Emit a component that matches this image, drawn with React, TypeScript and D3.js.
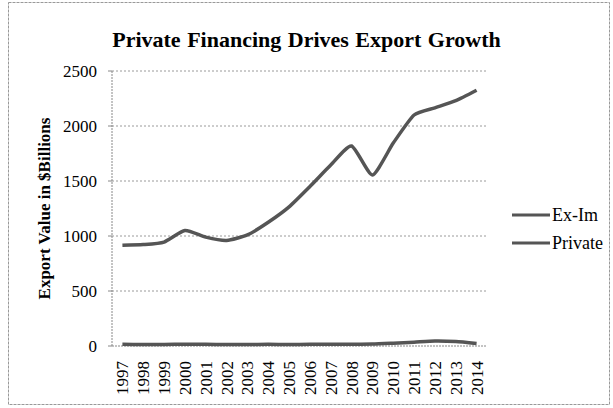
import React from "react";
import * as d3 from "d3";

// chart data
const years = ["1997", "1998", "1999", "2000", "2001", "2002", "2003", "2004", "2005",
  "2006", "2007", "2008", "2009", "2010", "2011", "2012", "2013", "2014"];
const privateValues = [915, 922, 945, 1050, 990, 960, 1010, 1125, 1265,
  1450, 1645, 1818, 1555, 1845, 2100, 2165, 2230, 2325];
const eximValues = [15, 14, 14, 16, 15, 14, 14, 15, 14, 15, 15, 16, 18, 26, 35, 45, 40, 22];
const yTicks = [0, 500, 1000, 1500, 2000, 2500];
const legendLabels = ["Ex-Im", "Private"];

const W = 613;
const H = 408;
const plot = { left: 112, right: 487, top: 71, bottom: 346 };
const font = '"Liberation Serif", "Times New Roman", serif';
const lineColor = "#555";

const App: React.FC = () => {
  const x = d3.scaleBand<string>().domain(years).range([plot.left, plot.right]);
  const y = d3.scaleLinear().domain([0, 2500]).range([plot.bottom, plot.top]);
  const cx = (yr: string) => (x(yr) ?? 0) + x.bandwidth() / 2;

  const line = d3
    .line<number>()
    .x((_, i) => cx(years[i]))
    .y((d) => y(d))
    .curve(d3.curveCardinal.tension(0.4));

  const series = [
    { label: legendLabels[0], values: eximValues },
    { label: legendLabels[1], values: privateValues },
  ];

  return (
    <svg width={W} height={H} style={{ position: "absolute", left: 0, top: 0, background: "#fff" }}>
      <rect x={8.5} y={2.5} width={601} height={402} fill="#fff" stroke="#999" strokeDasharray="3,1" />

      <text x={W / 2} y={47} textAnchor="middle" fontFamily={font} fontWeight="bold" fontSize={22}
        wordSpacing={1}>
        Private Financing Drives Export Growth
      </text>

      {/* grid */}
      {yTicks.filter((t) => t > 0).map((t) => (
        <line key={t} x1={plot.left} x2={plot.right} y1={y(t)} y2={y(t)}
          stroke="#9a9a9a" strokeDasharray="2,2" />
      ))}
      {yTicks.map((t) => (
        <g key={"t" + t}>
          <line x1={plot.left - 4} x2={plot.left} y1={y(t)} y2={y(t)} stroke="#888" />
          <text x={97} y={y(t)} dy="0.35em" textAnchor="end" fontFamily={font} fontSize={17}>
            {t}
          </text>
        </g>
      ))}
      <line x1={plot.left} x2={plot.left} y1={plot.top} y2={plot.bottom} stroke="#888" strokeDasharray="2,1" />
      <line x1={plot.left} x2={plot.right} y1={plot.bottom} y2={plot.bottom} stroke="#888" strokeDasharray="2,1" />

      {years.map((yr) => (
        <text key={yr} transform={`translate(${cx(yr)},${plot.bottom + 15}) rotate(-90)`}
          dy="0.35em" textAnchor="end" fontFamily={font} fontSize={17}>
          {yr}
        </text>
      ))}

      <text transform={`translate(44,${(plot.top + plot.bottom) / 2}) rotate(-90)`} dy="0.35em"
        textAnchor="middle" fontFamily={font} fontWeight="bold" fontSize={17}>
        Export Value in $Billions
      </text>

      {series.map((s) => (
        <path key={s.label} d={line(s.values) ?? ""} fill="none" stroke={lineColor}
          strokeWidth={3.5} strokeLinejoin="round" />
      ))}

      {series.map((s, i) => (
        <g key={"lg" + s.label} transform={`translate(512,${215 + i * 28})`}>
          <line x1={0} x2={38} y1={0} y2={0} stroke={lineColor} strokeWidth={3} />
          <text x={40} y={0} dy="0.35em" fontFamily={font} fontSize={18}>
            {s.label}
          </text>
        </g>
      ))}
    </svg>
  );
};

export default App;
